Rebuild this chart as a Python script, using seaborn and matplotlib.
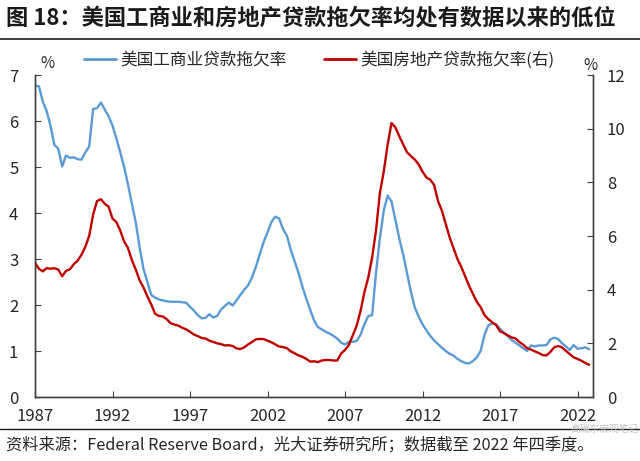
import numpy as np
import pandas as pd
import seaborn as sns
import matplotlib.pyplot as plt
from matplotlib.lines import Line2D

# 季度数据 1987Q1 - 2022Q4
quarters = pd.period_range("1987Q1", "2022Q4", freq="Q")

# 美国工商业贷款拖欠率（左轴，%）
ci_rate = [
    6.76, 6.76, 6.42, 6.22,  5.90, 5.48, 5.40, 5.01,  5.25, 5.20, 5.21, 5.17,
    5.16, 5.32, 5.45, 6.26,  6.28, 6.40, 6.25, 6.10,  5.90, 5.62, 5.32, 5.00,
    4.62, 4.20, 3.80, 3.25,  2.78, 2.50, 2.22, 2.16,  2.12, 2.10, 2.08, 2.07,
    2.07, 2.07, 2.06, 2.05,  1.96, 1.88, 1.78, 1.71,  1.72, 1.80, 1.73, 1.76,
    1.90, 1.98, 2.05, 1.99,  2.10, 2.22, 2.33, 2.43,  2.60, 2.83, 3.10, 3.37,
    3.58, 3.80, 3.92, 3.88,  3.65, 3.51, 3.20, 2.95,  2.70, 2.40, 2.14, 1.90,
    1.67, 1.52, 1.47, 1.42,  1.38, 1.33, 1.27, 1.18,  1.14, 1.20, 1.20, 1.22,
    1.35, 1.58, 1.76, 1.78,  2.70, 3.45, 4.05, 4.38,  4.25, 3.85, 3.45, 3.10,
    2.70, 2.29, 1.95, 1.75,  1.58, 1.45, 1.33, 1.23,  1.15, 1.07, 1.00, 0.94,
    0.90, 0.83, 0.78, 0.74,  0.73, 0.78, 0.86, 1.00,  1.35, 1.56, 1.60, 1.58,
    1.48, 1.40, 1.32, 1.24,  1.18, 1.12, 1.06, 1.00,  1.12, 1.10, 1.12, 1.12,
    1.13, 1.25, 1.29, 1.26,  1.17, 1.10, 1.02, 1.13,  1.05, 1.06, 1.08, 1.04,
]

# 美国房地产贷款拖欠率（右轴，%）
re_rate = [
    5.00, 4.78, 4.68, 4.80,  4.78, 4.80, 4.75, 4.50,  4.70, 4.76, 4.95, 5.08,
    5.30, 5.60, 6.01, 6.80,  7.30, 7.37, 7.20, 7.09,  6.65, 6.52, 6.20, 5.80,
    5.55, 5.10, 4.75, 4.35,  4.08, 3.75, 3.45, 3.10,  3.02, 3.00, 2.90, 2.75,
    2.70, 2.66, 2.58, 2.52,  2.43, 2.33, 2.27, 2.20,  2.18, 2.10, 2.05, 2.00,
    1.97, 1.92, 1.93, 1.90,  1.81, 1.79, 1.85, 1.96,  2.05, 2.15, 2.16, 2.16,
    2.10, 2.04, 1.96, 1.88,  1.86, 1.82, 1.70, 1.63,  1.55, 1.50, 1.42, 1.32,
    1.33, 1.30, 1.36, 1.38,  1.38, 1.36, 1.36, 1.62,  1.75, 1.94, 2.30, 2.65,
    3.20, 3.90, 4.45, 5.20,  6.20, 7.60, 8.40, 9.40,  10.21, 10.05, 9.72, 9.42,
    9.12, 8.98, 8.85, 8.67,  8.40, 8.18, 8.10, 7.90,  7.30, 6.95, 6.45, 5.95,
    5.55, 5.15, 4.85, 4.50,  4.15, 3.85, 3.55, 3.35,  3.05, 2.90, 2.78, 2.68,
    2.45, 2.38, 2.30, 2.22,  2.18, 2.05, 1.95, 1.82,  1.77, 1.70, 1.64, 1.56,
    1.55, 1.68, 1.85, 1.90,  1.85, 1.72, 1.60, 1.48,  1.42, 1.35, 1.27, 1.20,
]

year_ticks = [1987, 1992, 1997, 2002, 2007, 2012, 2017, 2022]
ci_label = "美国工商业贷款拖欠率"
re_label = "美国房地产贷款拖欠率(右)"

blue = "#5B9BD5"
red = "#C00000"
txt = "#262626"

df = pd.DataFrame({
    "t": quarters.year + (quarters.quarter - 1) / 4,
    "ci": ci_rate,
    "re": re_rate,
})

sns.set_style("white")
plt.rcParams['font.family'] = ['Noto Sans CJK SC', 'DejaVu Sans']
plt.rcParams['axes.unicode_minus'] = False

fig = plt.figure(figsize=(6.4, 4.61), dpi=100)
ax = fig.add_axes([35 / 640, 1 - 397 / 461, 558 / 640, 322 / 461])
ax2 = ax.twinx()

sns.lineplot(data=df, x="t", y="ci", ax=ax, color=blue, linewidth=1.7, legend=False)
sns.lineplot(data=df, x="t", y="re", ax=ax2, color=red, linewidth=1.7, legend=False)

ax.set_xlim(1987, 2023)
ax.set_ylim(0, 7)
ax2.set_ylim(0, 12)
ax.set_xticks(year_ticks)
ax.set_xticklabels([str(y) for y in year_ticks])
ax.set_yticks(range(0, 8))
ax2.set_yticks(range(0, 13, 2))
ax.set_xlabel("")
ax.set_ylabel("")
ax2.set_ylabel("")

for a in (ax, ax2):
    for s in a.spines.values():
        s.set_color("#404040")
        s.set_linewidth(1.0)
    a.spines["top"].set_visible(False)

ax.tick_params(axis="x", direction="in", length=4, pad=8, labelsize=12,
               colors="#404040", labelcolor=txt, bottom=True)
ax.tick_params(axis="y", direction="in", length=4, pad=12, labelsize=12,
               colors="#404040", labelcolor=txt, left=True)
ax2.tick_params(axis="y", direction="in", length=4, pad=10, labelsize=12,
                colors="#404040", labelcolor=txt, right=True)

# 单位
fig.text(47 / 640, 1 - 63 / 461, "%", fontsize=11, color=txt, ha="center", va="center")
fig.text(590 / 640, 1 - 65 / 461, "%", fontsize=11, color=txt, ha="center", va="center")

# 图例
handles = [Line2D([], [], color=blue, lw=2), Line2D([], [], color=red, lw=2)]
fig.legend(handles, [ci_label, re_label], loc="center left",
           bbox_to_anchor=(84 / 640, 1 - 60 / 461), ncol=2, frameon=False,
           fontsize=12, handlelength=1.9, handletextpad=0.25,
           columnspacing=2.3, borderpad=0, borderaxespad=0,
           labelcolor=txt)

# 标题与分隔线
fig.text(6 / 640, 1 - 18 / 461, "图 18：美国工商业和房地产贷款拖欠率均处有数据以来的低位",
         fontsize=16, fontweight="bold", color="#1a1a1a", ha="left", va="center")
fig.add_artist(Line2D([0, 1], [1 - 39 / 461] * 2, color="#1a1a1a", lw=1.2))
fig.add_artist(Line2D([0, 1], [1 - 429 / 461] * 2, color="#1a1a1a", lw=1.0))

fig.text(6 / 640, 1 - 445 / 461,
         "资料来源：Federal Reserve Board，光大证券研究所；数据截至 2022 年四季度。",
         fontsize=11.7, color=txt, ha="left", va="center")
# 水印
fig.text(639 / 640, 1 - 429 / 461, "高瑞东宏观笔记", fontsize=7,
         color="#c4c4c4", ha="right", va="center")

fig.savefig("out.png", dpi=100)
